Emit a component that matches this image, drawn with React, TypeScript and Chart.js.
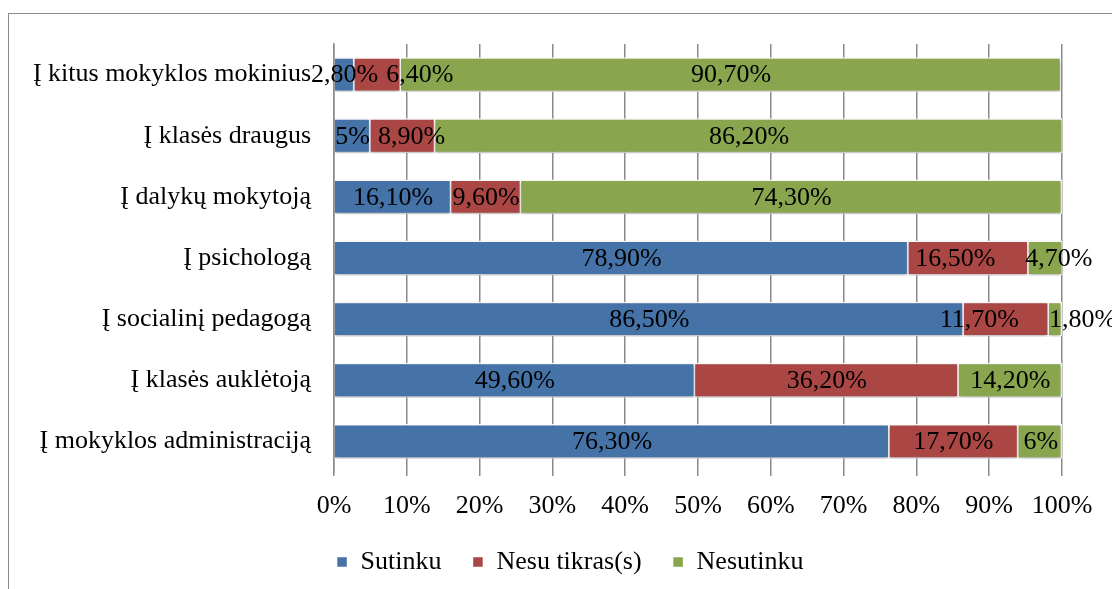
import React, { useEffect, useRef } from "react";
import { Chart, registerables } from "chart.js";

Chart.register(...registerables);

const categories = [
  "Į kitus mokyklos mokinius",
  "Į klasės draugus",
  "Į dalykų mokytoją",
  "Į psichologą",
  "Į socialinį pedagogą",
  "Į klasės auklėtoją",
  "Į mokyklos administraciją",
];
const sutinku = [2.8, 5, 16.1, 78.9, 86.5, 49.6, 76.3];
const nesuTikras = [6.4, 8.9, 9.6, 16.5, 11.7, 36.2, 17.7];
const nesutinku = [90.7, 86.2, 74.3, 4.7, 1.8, 14.2, 6];
const seriesNames = ["Sutinku", "Nesu tikras(s)", "Nesutinku"];
const xTickValues = [0, 10, 20, 30, 40, 50, 60, 70, 80, 90, 100];

const FONT = "'Liberation Serif', 'Times New Roman', serif";
const FS = 26;
const PINNED_GAP = 8;
const PAIR_GAP = 30;

const fmt = (v: number) =>
  Number.isInteger(v) ? `${v}%` : `${v.toFixed(2).replace(".", ",")}%`;

const labelPlugin = {
  id: "segLabels",
  beforeDatasetsDraw(chart: any) {
    const ctx = chart.ctx;
    ctx.save();
    ctx.shadowColor = "rgba(0,0,0,0.28)";
    ctx.shadowBlur = 4;
    ctx.shadowOffsetY = 2;
  },
  afterDatasetsDraw(chart: any) {
    const ctx = chart.ctx;
    ctx.restore();
    ctx.save();
    ctx.font = `${FS}px ${FONT}`;
    ctx.fillStyle = "#000";
    ctx.textAlign = "center";
    ctx.textBaseline = "middle";
    const n = chart.data.labels.length;
    for (let j = 0; j < n; j++) {
      const items: any[] = [];
      chart.data.datasets.forEach((ds: any, i: number) => {
        const bar = chart.getDatasetMeta(i).data[j];
        const p = bar.getProps(["x", "y", "base"], true);
        const text = fmt(ds.data[j]);
        items.push({ text, cx: (p.x + p.base) / 2, y: p.y, w: ctx.measureText(text).width });
      });
      // simple overlap avoidance, first label pinned
      for (let k = 1; k < items.length; k++) {
        const a = items[k - 1];
        const b = items[k];
        const pinned = k - 1 === 0;
        const gap = pinned ? PINNED_GAP : PAIR_GAP;
        const overlap = a.cx + a.w / 2 + gap - (b.cx - b.w / 2);
        if (overlap > 0) {
          if (pinned) {
            b.cx += overlap;
          } else {
            a.cx -= overlap / 2;
            b.cx += overlap / 2;
          }
        }
      }
      items.forEach((it) => ctx.fillText(it.text, it.cx, it.y + 1));
    }
    ctx.restore();
  },
};

export default function App() {
  const ref = useRef<HTMLCanvasElement>(null);
  useEffect(() => {
    if (!ref.current) return;
    const chart = new Chart(ref.current, {
      type: "bar",
      data: {
        labels: categories,
        datasets: [
          { label: seriesNames[0], data: sutinku, backgroundColor: "#4572A7" },
          { label: seriesNames[1], data: nesuTikras, backgroundColor: "#AA4643" },
          { label: seriesNames[2], data: nesutinku, backgroundColor: "#89A54E" },
        ].map((d) => ({
          ...d,
          borderColor: "#ffffff",
          borderWidth: 1.5,
          barPercentage: 0.57,
          categoryPercentage: 1,
        })),
      },
      options: {
        indexAxis: "y",
        responsive: false,
        animation: false,
        layout: { padding: { top: 44, right: 50, left: 78, bottom: 4 } },
        plugins: {
          tooltip: { enabled: false },
          legend: {
            position: "bottom",
            labels: {
              boxWidth: 11,
              boxHeight: 11,
              color: "#000",
              padding: 31,
              font: { family: FONT, size: FS },
            },
          },
        },
        scales: {
          x: {
            stacked: true,
            min: 0,
            max: 100,
            afterBuildTicks: (scale: any) => {
              scale.ticks = xTickValues.map((v) => ({ value: v }));
            },
            afterFit: (scale: any) => {
              scale.height = 46;
            },
            ticks: {
              color: "#000",
              font: { family: FONT, size: FS },
              padding: 15,
              maxRotation: 0,
              autoSkip: false,
              callback: (v: any) => `${v}%`,
            },
            grid: { color: "#8a8a8a", lineWidth: 1.5, tickLength: 4, drawTicks: true },
            border: { display: false },
          },
          y: {
            stacked: true,
            afterFit: (scale: any) => {
              scale.width = 256;
              scale._computeLabelArea = () => undefined;
            },
            ticks: {
              color: "#000",
              font: { family: FONT, size: FS },
              padding: 23,
            },
            grid: { display: false, drawTicks: false },
            border: { display: true, color: "#8a8a8a", width: 1.5 },
          },
        },
      },
      plugins: [labelPlugin],
    } as any);
    return () => chart.destroy();
  }, []);
  return (
    <>
      <div
        style={{
          position: "fixed",
          left: 8,
          top: 13,
          width: 2000,
          height: 1000,
          borderLeft: "1.5px solid #8c8c8c",
          borderTop: "1.5px solid #8c8c8c",
        }}
      />
      <canvas
        ref={ref}
        width={1112}
        height={589}
        style={{ position: "fixed", left: 0, top: 0, width: 1112, height: 589 }}
      />
    </>
  );
}
